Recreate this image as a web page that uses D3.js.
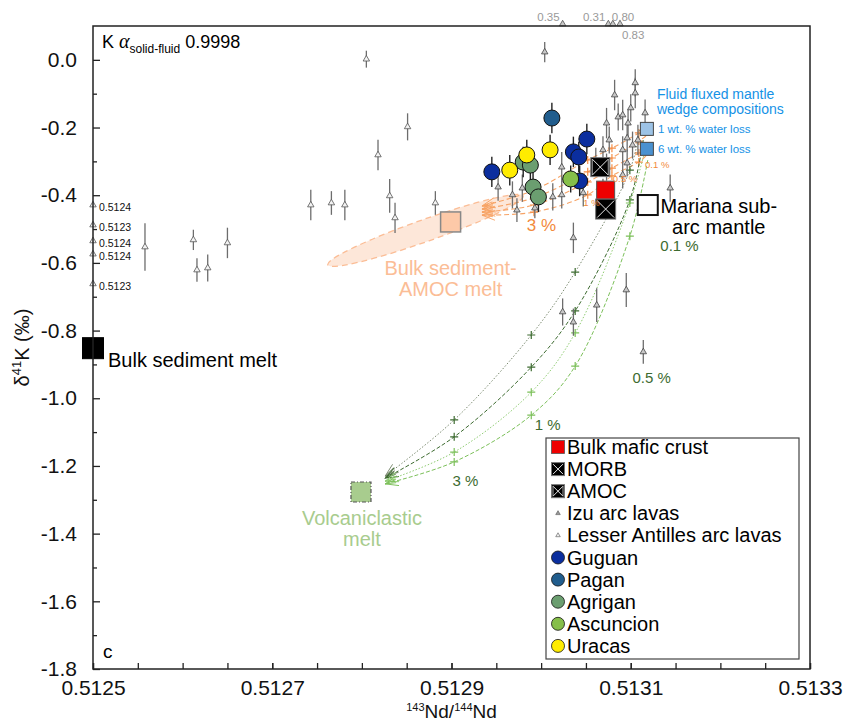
<!DOCTYPE html>
<html>
<head>
<meta charset="utf-8">
<script src="https://cdn.jsdelivr.net/npm/d3@7"></script>
<style>
  body { margin: 0; background: #fff; }
  svg text { font-family: "Liberation Sans", Arial, Helvetica, sans-serif; }
</style>
</head>
<body>
<svg id="chart" width="843" height="724"></svg>
<script>
// [143Nd/144Nd, d41K, 2sd]
const izuLavas = [
  [0.512952, -0.376, 0.04], [0.512968, -0.399, 0.04], [0.512973, -0.444, 0.035],
  [0.512979, -0.379, 0.04], [0.512993, -0.438, 0.03], [0.513004, 0.023, 0.03],
  [0.513013, -0.405, 0.04], [0.513023, -0.399, 0.04], [0.513023, -0.317, 0.045],
  [0.513036, -0.526, 0.045], [0.513024, -0.745, 0.04], [0.513036, -0.775, 0.04],
  [0.513062, -0.725, 0.05], [0.513095, -0.680, 0.05], [0.513114, -0.863, 0.035],
  [0.513144, -0.379, 0.04], [0.513082, -0.104, 0.045], [0.513100, -0.142, 0.04],
  [0.513105, -0.098, 0.045], [0.513073, -0.187, 0.045], [0.513086, -0.169, 0.04],
  [0.513091, -0.163, 0.045], [0.513097, -0.187, 0.04], [0.513116, -0.157, 0.04],
  [0.513076, -0.237, 0.04], [0.513096, -0.231, 0.04], [0.513102, -0.252, 0.04],
  [0.513108, -0.237, 0.045], [0.513091, -0.266, 0.04], [0.513069, -0.266, 0.04],
  [0.513073, -0.317, 0.04], [0.513096, -0.305, 0.04], [0.513091, -0.340, 0.04],
  [0.513047, -0.393, 0.04], [0.513069, -0.391, 0.04], [0.513105, -0.068, 0.04],
  [0.513061, -0.300, 0.04]
];
const antillesLavas = [
  [0.512558, -0.553, 0.07], [0.512612, -0.532, 0.03], [0.512616, -0.621, 0.035],
  [0.512628, -0.615, 0.04], [0.512650, -0.541, 0.045], [0.512743, -0.429, 0.045],
  [0.512766, -0.423, 0.035], [0.512781, -0.429, 0.045], [0.512805, 0.002, 0.025],
  [0.512818, -0.281, 0.045], [0.512831, -0.402, 0.05], [0.512837, -0.467, 0.045],
  [0.512851, -0.198, 0.04], [0.512882, -0.423, 0.035]
];
// points outside the axes, drawn on the frame and labelled with their real value
const antillesOffScale = [[0.5124, -0.429], [0.5123, -0.488], [0.5124, -0.535], [0.5124, -0.574], [0.5123, -0.662]];
const izuOffScale = [[0.513024, 0.35], [0.513075, 0.31], [0.513080, 0.80], [0.513088, 0.83]];

const guguan = [[0.512945, -0.331, 0.045], [0.513036, -0.272, 0.045], [0.513042, -0.287, 0.045], [0.513051, -0.234, 0.045], [0.513043, -0.358, 0.045]];
const pagan = [[0.513012, -0.172, 0.045]];
const agrigan = [[0.512980, -0.302, 0.045], [0.512988, -0.311, 0.045], [0.512991, -0.376, 0.045], [0.512997, -0.405, 0.045]];
const ascuncion = [[0.513033, -0.352, 0.04]];
const uracas = [[0.512965, -0.326, 0.045], [0.512984, -0.281, 0.045], [0.513010, -0.266, 0.045]];

// end-members
const bulkMaficCrust = [0.513072, -0.385];
const morb = [0.513072, -0.441];
const amoc = [0.513066, -0.317];
const marianaMantle = [0.513119, -0.429];
const fluid1 = [0.513118, -0.204];
const fluid6 = [0.513118, -0.263];
const sedAmocMelt = [0.512899, -0.479];
const bulkSedMelt = [0.5125, -0.852];
const volcMelt = [0.512799, -1.277];
const sedAmocField = [[0.512762, -0.606], [0.512980, -0.402]]; // ends of the shaded field

// mixing curves (start, 0.1 %, 0.5 %, 1 %, 3 %, end)
const orangeCurves = [
  [[0.513117, -0.201], [0.513109, -0.216], [0.513079, -0.261], [0.513052, -0.296], [0.512992, -0.385], [0.512934, -0.432]],
  [[0.513117, -0.225], [0.513109, -0.240], [0.513079, -0.290], [0.513052, -0.331], [0.512992, -0.408], [0.512934, -0.441]],
  [[0.513117, -0.261], [0.513109, -0.275], [0.513079, -0.320], [0.513052, -0.361], [0.512992, -0.429], [0.512934, -0.450]],
  [[0.513117, -0.284], [0.513109, -0.302], [0.513079, -0.343], [0.513052, -0.399], [0.512992, -0.450], [0.512934, -0.459]]
];
const greenCurves = [
  [[0.513110, -0.207], [0.513099, -0.326], [0.513038, -0.627], [0.512989, -0.813], [0.512903, -1.064], [0.512826, -1.230]],
  [[0.513114, -0.237], [0.513099, -0.414], [0.513038, -0.742], [0.512989, -0.908], [0.512903, -1.114], [0.512826, -1.236]],
  [[0.513116, -0.266], [0.513099, -0.423], [0.513038, -0.807], [0.512989, -0.982], [0.512903, -1.159], [0.512826, -1.245]],
  [[0.513119, -0.296], [0.513099, -0.521], [0.513038, -0.905], [0.512989, -1.050], [0.512903, -1.188], [0.512826, -1.253]]
];
const greenLabels = [[0.513133, -0.565, '0.1 %'], [0.513102, -0.955, '0.5 %'], [0.512993, -1.094, '1 %'], [0.512901, -1.259, '3 %']];
const orangeLabels = [[0.513116, -0.320, '0.1 %'], [0.513080, -0.361, '0.5 %'], [0.513047, -0.432, '1 %']];
const orangeBigLabel = [0.512984, -0.506, '3 %'];

const xMajor = [0.5125, 0.5127, 0.5129, 0.5131, 0.5133];
const yMajor = [0.0, -0.2, -0.4, -0.6, -0.8, -1.0, -1.2, -1.4, -1.6, -1.8];

const svg = d3.select('#chart');
const x = d3.scaleLinear().domain([0.5125, 0.5133]).range([93, 810]);
const y = d3.scaleLinear().domain([-1.8, 0.1]).range([669, 26]);

const col = {
  guguan: '#0b2e9e', pagan: '#215d8d', agrigan: '#6b9e70', ascuncion: '#86bf4a', uracas: '#ffec00',
  orange: '#f7a365', orangeText: '#f28a3c', peach: '#fbbd96',
  darkGreen: '#3d6b30', lightGreen: '#7cc05a', volc: '#a8cc8e'
};

// markers
const defs = svg.append('defs');
function arrowMarker(id, color) {
  defs.append('marker').attr('id', id).attr('markerUnits', 'userSpaceOnUse')
    .attr('viewBox', '-14 -7 16 14').attr('refX', 0).attr('refY', 0)
    .attr('markerWidth', 16).attr('markerHeight', 14).attr('orient', 'auto')
    .append('path').attr('d', 'M-13,-5L0,0L-13,5M-11,-1.5L0,0L-11,1.5').attr('fill', 'none')
    .attr('stroke', color).attr('stroke-width', 0.9);
}
arrowMarker('arO', col.orange);
arrowMarker('arG0', '#7d8c72');
arrowMarker('arG1', col.darkGreen);
arrowMarker('arG2', '#8fcc72');
arrowMarker('arG3', col.lightGreen);

// shaded bulk sediment-AMOC field
(function() {
  const [a, b] = sedAmocField.map(p => [x(p[0]), y(p[1])]);
  const cx = (a[0] + b[0]) / 2, cy = (a[1] + b[1]) / 2;
  const rx = Math.hypot(b[0] - a[0], b[1] - a[1]) / 2;
  const ang = Math.atan2(b[1] - a[1], b[0] - a[0]) * 180 / Math.PI;
  svg.append('ellipse').attr('cx', cx).attr('cy', cy).attr('rx', rx).attr('ry', 11)
    .attr('transform', `rotate(${ang},${cx},${cy})`)
    .attr('fill', '#fde3d2').attr('fill-opacity', 0.85)
    .attr('stroke', col.peach).attr('stroke-width', 1.3).attr('stroke-dasharray', '6,4');
})();

const line = d3.line().x(d => x(d[0])).y(d => y(d[1])).curve(d3.curveCatmullRom);
const plus = 'M-4,0H4M0,-4V4';

// orange mixing curves
orangeCurves.forEach(c => {
  svg.append('path').attr('d', line(c)).attr('fill', 'none').attr('stroke', col.orange)
    .attr('stroke-width', 1.1).attr('stroke-dasharray', '5,3').attr('marker-end', 'url(#arO)');
  svg.selectAll(null).data(c.slice(1, 5)).enter().append('path')
    .attr('d', plus).attr('transform', d => `translate(${x(d[0])},${y(d[1])})`)
    .attr('stroke', '#f58d45').attr('stroke-width', 1.2);
});

// green mixing curves
const gStyle = [
  {stroke: '#7d8c72', dash: '1.5,1.8', plus: col.darkGreen},
  {stroke: col.darkGreen, dash: '4,2', plus: col.darkGreen},
  {stroke: '#8fcc72', dash: '1.5,1.8', plus: col.lightGreen},
  {stroke: col.lightGreen, dash: '4,2', plus: col.lightGreen}
];
greenCurves.forEach((c, i) => {
  svg.append('path').attr('d', line(c)).attr('fill', 'none').attr('stroke', gStyle[i].stroke)
    .attr('stroke-width', 1).attr('stroke-dasharray', gStyle[i].dash).attr('marker-end', `url(#arG${i})`);
  svg.selectAll(null).data(c.slice(1, 5)).enter().append('path')
    .attr('d', plus).attr('transform', d => `translate(${x(d[0])},${y(d[1])})`)
    .attr('stroke', gStyle[i].plus).attr('stroke-width', 1.2);
});

// arc lavas
const tri = d3.symbol(d3.symbolTriangle, 18);
function lavas(data, fill, stroke) {
  const g = svg.append('g');
  g.selectAll('line').data(data).enter().append('line')
    .attr('x1', d => x(d[0])).attr('x2', d => x(d[0]))
    .attr('y1', d => y(d[1] - d[2])).attr('y2', d => y(d[1] + d[2]))
    .attr('stroke', '#6d6d6d').attr('stroke-width', 1.3);
  g.selectAll('path').data(data).enter().append('path').attr('d', tri)
    .attr('transform', d => `translate(${x(d[0])},${y(d[1])})`)
    .attr('fill', fill).attr('stroke', stroke).attr('stroke-width', 0.8);
}
lavas(antillesLavas, '#f2f2f2', '#555');
lavas(izuLavas, '#c8c8c8', '#444');

// off-scale points
svg.selectAll('.offL').data(antillesOffScale).enter().append('path').attr('d', tri)
  .attr('transform', d => `translate(${x.range()[0]},${y(d[1])})`)
  .attr('fill', '#f2f2f2').attr('stroke', '#555').attr('stroke-width', 0.8);
svg.selectAll('.offLt').data(antillesOffScale).enter().append('text')
  .attr('x', x.range()[0] + 6).attr('y', d => y(d[1]) + 6)
  .attr('font-size', 10.5).attr('fill', '#111').text(d => d[0].toFixed(4));
svg.selectAll('.offT').data(izuOffScale).enter().append('path').attr('d', tri)
  .attr('transform', d => `translate(${x(d[0])},${y.range()[1] - 2})`)
  .attr('fill', '#c8c8c8').attr('stroke', '#555').attr('stroke-width', 0.8);
const topLabelPos = [{a: 'end', dx: -3, dy: -5}, {a: 'end', dx: -3, dy: -5}, {a: 'start', dx: -1, dy: -5}, {a: 'start', dx: 2, dy: 13}];
svg.selectAll('.offTt').data(izuOffScale).enter().append('text')
  .attr('x', (d, i) => x(d[0]) + topLabelPos[i].dx).attr('y', (d, i) => y.range()[1] + topLabelPos[i].dy)
  .attr('text-anchor', (d, i) => topLabelPos[i].a)
  .attr('font-size', 11.5).attr('fill', '#999').text(d => d[1].toFixed(2));

// end-member squares
function square(p, s, fill, stroke, sw, dash) {
  const r = svg.append('rect').attr('x', x(p[0]) - s / 2).attr('y', y(p[1]) - s / 2)
    .attr('width', s).attr('height', s).attr('fill', fill)
    .attr('stroke', stroke).attr('stroke-width', sw);
  if (dash) r.attr('stroke-dasharray', dash);
}
function crossSquare(cx, cy, s, inner) {
  const g = svg.append('g');
  g.append('rect').attr('x', cx - s / 2).attr('y', cy - s / 2).attr('width', s).attr('height', s)
    .attr('fill', '#000').attr('stroke', '#777').attr('stroke-width', 1);
  const h = s / 2 - 1.5;
  g.append('path').attr('d', `M${cx - h},${cy - h}L${cx + h},${cy + h}M${cx + h},${cy - h}L${cx - h},${cy + h}`)
    .attr('stroke', '#fff').attr('stroke-width', 0.9);
  if (inner) {
    g.append('path').attr('d', `M${cx - h},${cy - h}V${cy + h}M${cx + h},${cy - h}V${cy + h}`)
      .attr('stroke', '#ccc').attr('stroke-width', 0.8);
  }
}
square(sedAmocMelt, 20, '#fdc9a8', '#888', 1.5);
square(volcMelt, 20, col.volc, '#555', 1.2, '4,2,1,2');
square(bulkSedMelt, 21, '#000', '#000', 1);
square(marianaMantle, 20, '#fff', '#111', 2);
square(fluid1, 13, '#9dc3e6', '#444', 1);
square(fluid6, 13, '#4a91d0', '#444', 1);
crossSquare(x(amoc[0]), y(amoc[1]), 19, true);
square(bulkMaficCrust, 18, '#ee0000', '#555', 1);
crossSquare(x(morb[0]), y(morb[1]), 20, false);

// Mariana islands
const islands = [[guguan, col.guguan], [pagan, col.pagan], [agrigan, col.agrigan], [ascuncion, col.ascuncion], [uracas, col.uracas]];
islands.forEach(([data]) => {
  svg.selectAll(null).data(data).enter().append('line')
    .attr('x1', d => x(d[0])).attr('x2', d => x(d[0]))
    .attr('y1', d => y(d[1] - d[2])).attr('y2', d => y(d[1] + d[2]))
    .attr('stroke', '#222').attr('stroke-width', 1.4);
});
islands.forEach(([data, c]) => {
  svg.selectAll(null).data(data).enter().append('circle')
    .attr('cx', d => x(d[0])).attr('cy', d => y(d[1])).attr('r', 8)
    .attr('fill', c).attr('stroke', '#111').attr('stroke-width', 1);
});

// annotation text
function label(px, py, txt, size, color, anchor) {
  return svg.append('text').attr('x', px).attr('y', py).attr('font-size', size)
    .attr('fill', color).attr('text-anchor', anchor || 'start').text(txt);
}
label(x(marianaMantle[0]) + 71, y(marianaMantle[1]) + 8, 'Mariana sub-', 20, '#000', 'middle');
label(x(marianaMantle[0]) + 71, y(marianaMantle[1]) + 29, 'arc mantle', 20, '#000', 'middle');
label(x(bulkSedMelt[0]) + 15, y(bulkSedMelt[1]) + 19, 'Bulk sediment melt', 20, '#000');
label(x(sedAmocMelt[0]), y(sedAmocMelt[1]) + 53, 'Bulk sediment-', 20, col.peach, 'middle');
label(x(sedAmocMelt[0]), y(sedAmocMelt[1]) + 74, 'AMOC melt', 20, col.peach, 'middle');
label(x(volcMelt[0]) + 1, y(volcMelt[1]) + 33, 'Volcaniclastic', 20, col.volc, 'middle');
label(x(volcMelt[0]) + 1, y(volcMelt[1]) + 54, 'melt', 20, col.volc, 'middle');
label(x(fluid1[0]) + 10, y(fluid1[1]) - 30, 'Fluid fluxed mantle', 14, '#1592e6');
label(x(fluid1[0]) + 10, y(fluid1[1]) - 15, 'wedge compositions', 14, '#1592e6');
label(x(fluid1[0]) + 11, y(fluid1[1]) + 4, '1 wt. % water loss', 11.5, '#1592e6');
label(x(fluid6[0]) + 11, y(fluid6[1]) + 4, '6 wt. % water loss', 11.5, '#1592e6');

greenLabels.forEach(d => label(x(d[0]), y(d[1]), d[2], 15, col.darkGreen));
orangeLabels.forEach(d => label(x(d[0]), y(d[1]), d[2], 9.5, col.orangeText));
label(x(orangeBigLabel[0]), y(orangeBigLabel[1]), orangeBigLabel[2], 17, col.orangeText);

// K alpha label and panel letter
const kt = svg.append('text').attr('x', 102).attr('y', 48).attr('font-size', 18).attr('fill', '#000');
kt.append('tspan').text('K ');
kt.append('tspan').attr('font-style', 'italic').attr('font-family', '"Liberation Serif", serif').attr('font-size', 20).text('α');
kt.append('tspan').attr('font-size', 12).attr('dy', 5).text('solid-fluid');
kt.append('tspan').attr('dy', -5).text(' 0.9998');
label(103, 658, 'c', 19, '#000');

// axes
const fmtX = d => d.toFixed(4);
const fmtY = d => d.toFixed(1);
svg.append('g').attr('transform', `translate(0,${y.range()[0]})`)
  .call(d3.axisBottom(x).tickValues(xMajor).tickSize(-6).tickPadding(11).tickFormat(fmtX));
svg.append('g').attr('transform', `translate(0,${y.range()[0]})`)
  .call(d3.axisBottom(x).tickValues(d3.range(0, 17).map(i => 0.5125 + i * 0.00005)).tickSize(-6).tickFormat(''));
svg.append('g').attr('transform', `translate(${x.range()[0]},0)`)
  .call(d3.axisLeft(y).tickValues(yMajor).tickSize(-7).tickPadding(16).tickFormat(fmtY));
svg.append('g').attr('transform', `translate(${x.range()[0]},0)`)
  .call(d3.axisLeft(y).tickValues(d3.range(0, 19).map(i => -1.7 + i * 0.2).filter(v => v < 0.1)).tickSize(-4).tickFormat(''));
svg.selectAll('.domain').remove();
svg.selectAll('.tick line').attr('stroke', '#222').attr('stroke-width', 1.3);
svg.selectAll('.tick text').attr('font-size', 21).attr('fill', '#111')
  .attr('font-family', '"Liberation Sans", Arial, sans-serif');

svg.append('rect').attr('x', x.range()[0]).attr('y', y.range()[1])
  .attr('width', x.range()[1] - x.range()[0]).attr('height', y.range()[0] - y.range()[1])
  .attr('fill', 'none').attr('stroke', '#222').attr('stroke-width', 1.5);

// axis titles
const xt = svg.append('text').attr('x', (x.range()[0] + x.range()[1]) / 2).attr('y', 718)
  .attr('text-anchor', 'middle').attr('font-size', 19).attr('fill', '#111');
xt.append('tspan').attr('font-size', 11).attr('dy', -7).text('143');
xt.append('tspan').attr('dy', 7).text('Nd/');
xt.append('tspan').attr('font-size', 11).attr('dy', -7).text('144');
xt.append('tspan').attr('dy', 7).text('Nd');

const yt = svg.append('text').attr('transform', `translate(29,${(y.range()[0] + y.range()[1]) / 2}) rotate(-90)`)
  .attr('text-anchor', 'middle').attr('font-size', 20).attr('fill', '#111');
yt.append('tspan').text('δ');
yt.append('tspan').attr('font-size', 13).attr('dy', -8).text('41');
yt.append('tspan').attr('dy', 8).text('K (‰)');

// legend
const legendItems = [
  {label: 'Bulk mafic crust', type: 'sq', fill: '#ee0000'},
  {label: 'MORB', type: 'morb'},
  {label: 'AMOC', type: 'amoc'},
  {label: 'Izu arc lavas', type: 'tri', fill: '#999'},
  {label: 'Lesser Antilles arc lavas', type: 'tri', fill: '#eee'},
  {label: 'Guguan', type: 'c', fill: col.guguan},
  {label: 'Pagan', type: 'c', fill: col.pagan},
  {label: 'Agrigan', type: 'c', fill: col.agrigan},
  {label: 'Ascuncion', type: 'c', fill: col.ascuncion},
  {label: 'Uracas', type: 'c', fill: col.uracas}
];
svg.append('rect').attr('x', 546).attr('y', 438).attr('width', 253).attr('height', 221)
  .attr('fill', '#fff').attr('stroke', '#444').attr('stroke-width', 1.2);
legendItems.forEach((it, i) => {
  const cy = 447 + i * 22.1, cx = 558;
  if (it.type === 'sq') {
    svg.append('rect').attr('x', cx - 6.5).attr('y', cy - 6.5).attr('width', 13).attr('height', 13)
      .attr('fill', it.fill).attr('stroke', '#555').attr('stroke-width', 0.8);
  } else if (it.type === 'morb' || it.type === 'amoc') {
    crossSquare(cx, cy, 13, it.type === 'amoc');
  } else if (it.type === 'tri') {
    svg.append('path').attr('d', d3.symbol(d3.symbolTriangle, 9)).attr('transform', `translate(${cx},${cy})`)
      .attr('fill', it.fill).attr('stroke', '#555').attr('stroke-width', 0.6);
  } else {
    svg.append('circle').attr('cx', cx).attr('cy', cy).attr('r', 6.5)
      .attr('fill', it.fill).attr('stroke', '#111').attr('stroke-width', 0.8);
  }
  label(567, cy + 7, it.label, 20, '#000');
});
</script>
</body>
</html>
